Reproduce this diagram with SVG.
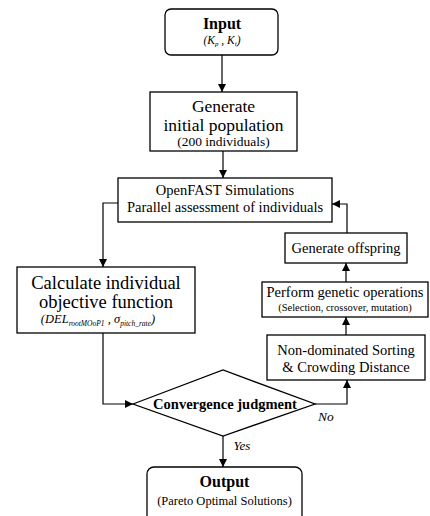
<svg xmlns="http://www.w3.org/2000/svg" width="430" height="516" viewBox="0 0 430 516">
<defs>
<marker id="ah" viewBox="0 0 10 10" refX="10" refY="5" markerWidth="8" markerHeight="8" markerUnits="userSpaceOnUse" orient="auto">
<path d="M0,0 L10,5 L0,10 z" fill="#000"/>
</marker>
<style>
.box{fill:#fff;stroke:#000;stroke-width:1.3}
.t{font-family:'Liberation Serif','DejaVu Serif',serif;fill:#000;text-anchor:middle}
.b{font-weight:bold}
.i{font-style:italic}
.c{fill:none;stroke:#000;stroke-width:1.2;marker-end:url(#ah)}
</style>
</defs>
<rect width="430" height="516" fill="#fff"/>
<g id="connectors">
<path class="c" d="M222,55 V92"/>
<path class="c" d="M223,151 V178"/>
<path class="c" d="M118,203 H103 V267"/>
<path class="c" d="M103,333 V404 H133"/>
<path class="c" d="M315,404 H347 V380"/>
<path class="c" d="M346,335 V317"/>
<path class="c" d="M346,282 V263"/>
<path class="c" d="M347,233 V204 H332"/>
<path class="c" d="M223,436 V467"/>
</g>
<g id="input">
<rect class="box" x="165" y="9" width="113" height="46" rx="6"/>
<text class="t b" x="222" y="29" font-size="16">Input</text>
<text class="t i" x="222" y="44" font-size="11.5">(<tspan>K</tspan><tspan font-size="7" dy="2">p</tspan><tspan dy="-2"> , K</tspan><tspan font-size="7" dy="2">i</tspan><tspan dy="-2">)</tspan></text>
</g>
<g id="generate">
<rect class="box" x="150" y="92" width="147" height="59"/>
<text class="t" x="223.5" y="112" font-size="17.5">Generate</text>
<text class="t" x="223.5" y="131" font-size="17.5">initial population</text>
<text class="t" x="223.5" y="146" font-size="13.5">(200 individuals)</text>
</g>
<g id="openfast">
<rect class="box" x="118" y="178" width="214" height="44"/>
<text class="t" x="225" y="195" font-size="14.5">OpenFAST Simulations</text>
<text class="t" x="225" y="212" font-size="14.5">Parallel assessment of individuals</text>
</g>
<g id="calculate">
<rect class="box" x="17" y="267" width="178" height="66"/>
<text class="t" x="106" y="289" font-size="18.5">Calculate individual</text>
<text class="t" x="106" y="308" font-size="18.5">objective function</text>
<text class="t i" x="98" y="323" font-size="12.5">(DEL<tspan font-size="7.5" dy="3">rootMOoP1</tspan><tspan dy="-3"> , σ</tspan><tspan font-size="7.5" dy="3">pitch_rate</tspan><tspan dy="-3">)</tspan></text>
</g>
<g id="offspring">
<rect class="box" x="285" y="233" width="122" height="30"/>
<text class="t" x="346" y="253" font-size="14.5">Generate offspring</text>
</g>
<g id="genetic">
<rect class="box" x="262" y="282" width="166" height="35"/>
<text class="t" x="345" y="297" font-size="14.5">Perform genetic operations</text>
<text class="t" x="345" y="311" font-size="10.5">(Selection, crossover, mutation)</text>
</g>
<g id="sorting">
<rect class="box" x="267" y="335" width="158" height="45"/>
<text class="t" x="346" y="355" font-size="14.5">Non-dominated Sorting</text>
<text class="t" x="346" y="372" font-size="14.5">&amp; Crowding Distance</text>
</g>
<g id="convergence">
<polygon class="box" points="133,404 223,370 315,404 223,436"/>
<text class="t b" x="225" y="409" font-size="14.5">Convergence judgment</text>
<text class="t i" x="326" y="421" font-size="13.5">No</text>
<text class="t i" x="242" y="450" font-size="13">Yes</text>
</g>
<g id="output">
<rect class="box" x="147" y="467" width="155" height="60" rx="7"/>
<text class="t b" x="224.5" y="487" font-size="16">Output</text>
<text class="t" x="224.5" y="505" font-size="12.5">(Pareto Optimal Solutions)</text>
</g>
</svg>
